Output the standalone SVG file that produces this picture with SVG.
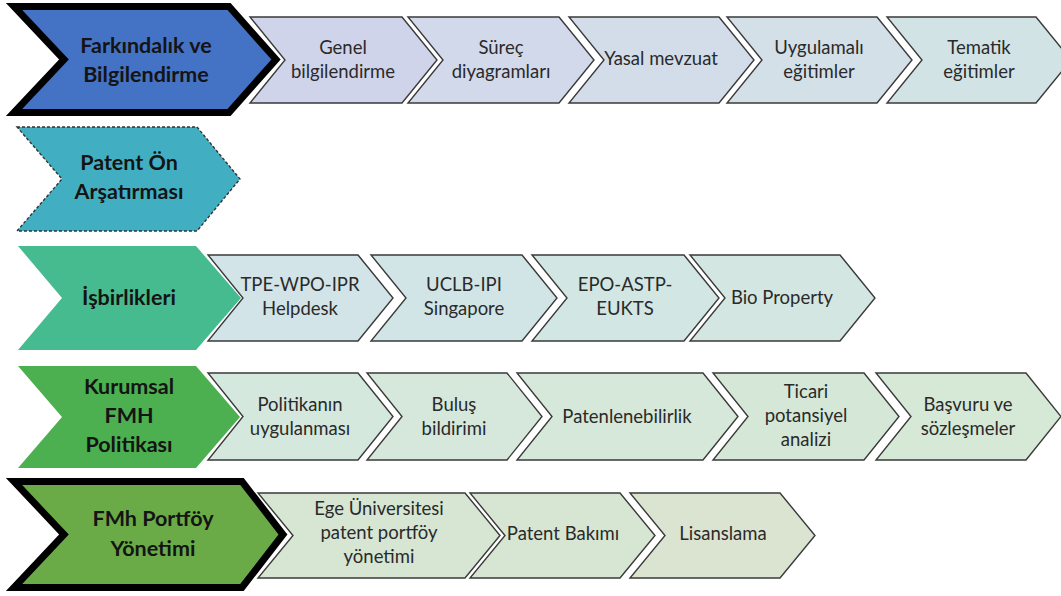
<svg xmlns="http://www.w3.org/2000/svg" width="1061" height="596" viewBox="0 0 1061 596">
<style>
  .main { stroke: none; }
  .heavy { stroke: #000; stroke-width: 7; stroke-linejoin: miter; stroke-miterlimit: 10; }
  .dash { stroke: #333; stroke-width: 1.4; stroke-dasharray: 3 2; }
  .sub { stroke: #3a3a3a; stroke-width: 1.4; stroke-linejoin: miter; }
  .mt { font-family: Lato, "Liberation Sans", sans-serif; font-weight: bold; font-size: 21.5px; fill: #141414; text-anchor: middle; }
  .st { font-family: Lato, "Liberation Sans", sans-serif; font-size: 18.5px; fill: #2a2a2a; text-anchor: middle; }
</style>
<rect width="1061" height="596" fill="#fff"/>

<!-- Row 1 -->
<g id="farkindalik">
  <polygon class="heavy" fill="#4472C4" points="14,6.5 229,6.5 276,59.5 229,112.5 14,112.5 64,59.5"/>
  <text class="mt" x="146" y="53">Farkındalık ve</text>
  <text class="mt" x="146" y="82">Bilgilendirme</text>
</g>
<g id="genel">
  <polygon class="sub" fill="#D0D4EA" points="250,17 402,17 437,60 402,103 250,103 285,60"/>
  <text class="st" x="343" y="54">Genel</text>
  <text class="st" x="343" y="78">bilgilendirme</text>
</g>
<g id="surec">
  <polygon class="sub" fill="#D2D9EA" points="408,17 559,17 594,60 559,103 408,103 443,60"/>
  <text class="st" x="501" y="54">Süreç</text>
  <text class="st" x="501" y="78">diyagramları</text>
</g>
<g id="yasal">
  <polygon class="sub" fill="#D3DDE9" points="569,17 719,17 754,60 719,103 569,103 604,60"/>
  <text class="st" x="661" y="65">Yasal mevzuat</text>
</g>
<g id="uygulamali">
  <polygon class="sub" fill="#D3E0E8" points="727,17 877,17 912,60 877,103 727,103 762,60"/>
  <text class="st" x="819" y="54">Uygulamalı</text>
  <text class="st" x="819" y="78">eğitimler</text>
</g>
<g id="tematik">
  <polygon class="sub" fill="#D2E3E6" points="887,17 1036,17 1071,60 1036,103 887,103 922,60"/>
  <text class="st" x="979" y="54">Tematik</text>
  <text class="st" x="979" y="78">eğitimler</text>
</g>

<!-- Row 2 -->
<g id="patent-on">
  <polygon class="dash" fill="#41AFC1" points="17,127 197,127 240,179 197,231 17,231 62,179"/>
  <text class="mt" x="129" y="170">Patent Ön</text>
  <text class="mt" x="129" y="199">Arşatırması</text>
</g>

<!-- Row 3 -->
<g id="isbirlikleri">
  <polygon class="main" fill="#45BB8F" points="18,246 196,246 241,298 196,350 18,350 62,298"/>
  <text class="mt" x="129" y="305">İşbirlikleri</text>
</g>
<g id="tpe">
  <polygon class="sub" fill="#D2E4E7" points="208,255 358,255 393,298 358,341 208,341 243,298"/>
  <text class="st" x="300" y="291">TPE-WPO-IPR</text>
  <text class="st" x="300" y="315">Helpdesk</text>
</g>
<g id="uclb">
  <polygon class="sub" fill="#D2E5E6" points="371,255 522,255 557,298 522,341 371,341 406,298"/>
  <text class="st" x="464" y="291">UCLB-IPI</text>
  <text class="st" x="464" y="315">Singapore</text>
</g>
<g id="epo">
  <polygon class="sub" fill="#D2E6E4" points="532,255 684,255 719,298 684,341 532,341 567,298"/>
  <text class="st" x="625" y="291">EPO-ASTP-</text>
  <text class="st" x="625" y="315">EUKTS</text>
</g>
<g id="bio">
  <polygon class="sub" fill="#D3E6E1" points="690,255 840,255 875,298 840,341 690,341 725,298"/>
  <text class="st" x="782" y="304">Bio Property</text>
</g>

<!-- Row 4 -->
<g id="kurumsal">
  <polygon class="main" fill="#4CAF50" points="18,366 196,366 240,417 196,468 18,468 62,417"/>
  <text class="mt" x="129" y="394">Kurumsal</text>
  <text class="mt" x="129" y="423">FMH</text>
  <text class="mt" x="129" y="452">Politikası</text>
</g>
<g id="politikanin">
  <polygon class="sub" fill="#D4E8DD" points="208,373 358,373 393,416.5 358,460 208,460 243,416.5"/>
  <text class="st" x="300" y="411">Politikanın</text>
  <text class="st" x="300" y="435">uygulanması</text>
</g>
<g id="bulus">
  <polygon class="sub" fill="#D5E8DB" points="367,373 507,373 542,416.5 507,460 367,460 402,416.5"/>
  <text class="st" x="454" y="411">Buluş</text>
  <text class="st" x="454" y="435">bildirimi</text>
</g>
<g id="patenlenebilirlik">
  <polygon class="sub" fill="#D5E8D9" points="517,373 703,373 738,416.5 703,460 517,460 552,416.5"/>
  <text class="st" x="627" y="423">Patenlenebilirlik</text>
</g>
<g id="ticari">
  <polygon class="sub" fill="#D5E8D7" points="713,373 864,373 899,416.5 864,460 713,460 748,416.5"/>
  <text class="st" x="806" y="398">Ticari</text>
  <text class="st" x="806" y="422">potansiyel</text>
  <text class="st" x="806" y="446">analizi</text>
</g>
<g id="basvuru">
  <polygon class="sub" fill="#D6E8D6" points="876,373 1026,373 1061,416.5 1026,460 876,460 911,416.5"/>
  <text class="st" x="968" y="411">Başvuru ve</text>
  <text class="st" x="968" y="435">sözleşmeler</text>
</g>

<!-- Row 5 -->
<g id="portfoy">
  <polygon class="heavy" fill="#6BAB47" points="14,481.5 242,481.5 283,534.5 242,587.5 14,587.5 64,534.5"/>
  <text class="mt" x="153" y="526">FMh Portföy</text>
  <text class="mt" x="153" y="556">Yönetimi</text>
</g>
<g id="ege">
  <polygon class="sub" fill="#D6E6D3" points="258,493 465,493 500,535.5 465,578 258,578 293,535.5"/>
  <text class="st" x="379" y="515">Ege Üniversitesi</text>
  <text class="st" x="379" y="539">patent portföy</text>
  <text class="st" x="379" y="563">yönetimi</text>
</g>
<g id="patent-bakimi">
  <polygon class="sub" fill="#D7E6D2" points="470,493 620,493 655,535.5 620,578 470,578 505,535.5"/>
  <text class="st" x="563" y="540">Patent Bakımı</text>
</g>
<g id="lisanslama">
  <polygon class="sub" fill="#DAE4D1" points="630,493 780,493 815,535.5 780,578 630,578 665,535.5"/>
  <text class="st" x="723" y="540">Lisanslama</text>
</g>
</svg>
